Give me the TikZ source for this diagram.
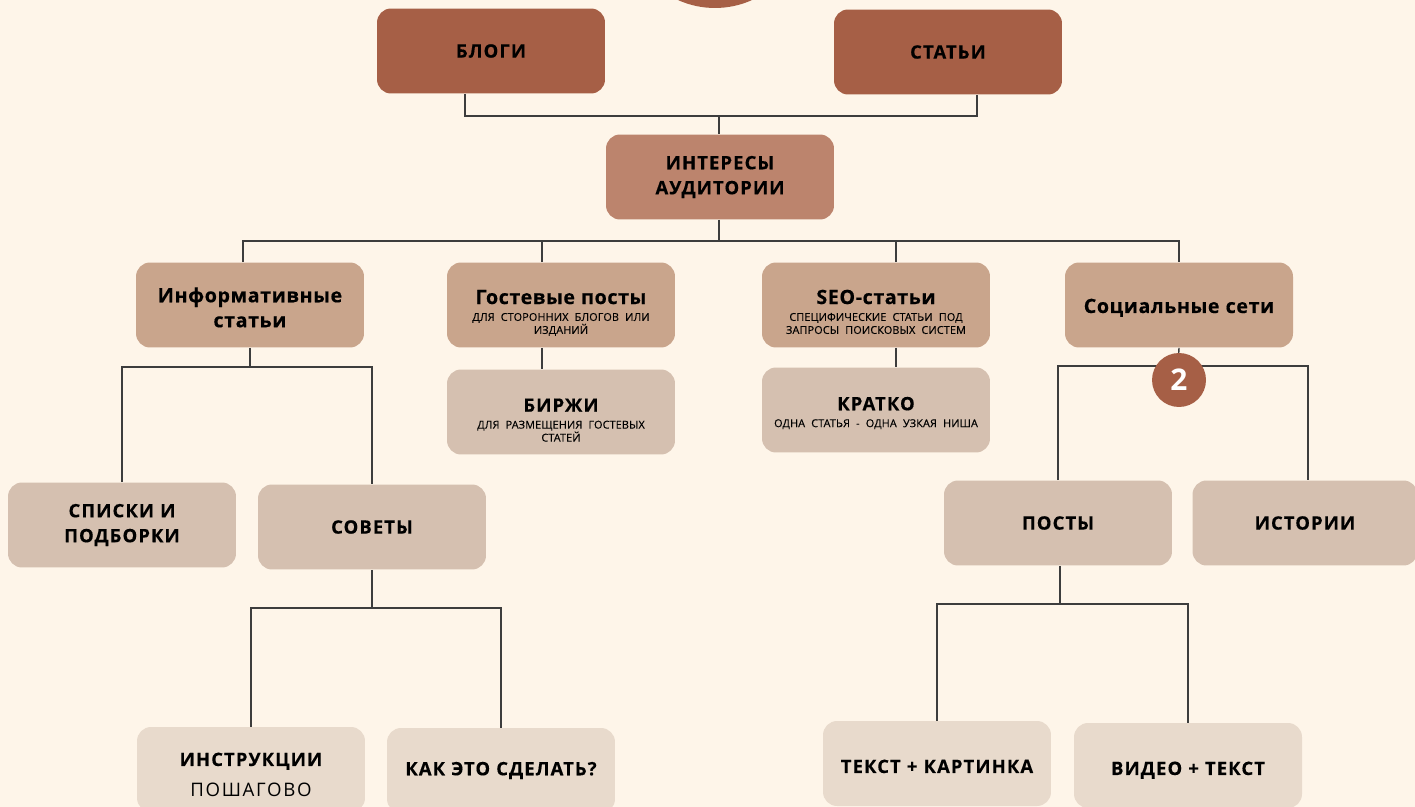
\documentclass[tikz,border=0pt]{standalone}
\usepackage{fontspec}
\setmainfont{Open Sans}
\newfontfamily\headfont{Open Sans}[LetterSpace=6, FakeBold=0.4]
\newfontfamily\mixfont{Open Sans}[LetterSpace=3, FakeBold=0.4]
\newfontfamily\subfont{Open Sans}[LetterSpace=1, FakeBold=0.2]
\newfontfamily\stepfont{Open Sans}[LetterSpace=9]

\definecolor{cream}{HTML}{FEF5E9}
\definecolor{brick}{HTML}{A65F46}
\definecolor{clay}{HTML}{BC846D}
\definecolor{sand}{HTML}{C9A58C}
\definecolor{beige}{HTML}{D5C0B0}
\definecolor{linen}{HTML}{E8DACC}
\definecolor{wire}{HTML}{3D3D3D}

\newcommand\subline{\subfont\mdseries\fontsize{6.2}{7.4}\selectfont}
\newcommand\mixline{\mixfont\bfseries\fontsize{11.2}{14.2}\selectfont}
\newcommand\topgap[1]{\rule{0pt}{#1}}
\newcommand\botgap[1]{\rule[-#1]{0pt}{#1}}

\tikzset{
    box/.style={rounded corners=0.28cm, minimum width=4.56cm, minimum height=1.7cm,
        inner sep=0pt, text width=4.5cm, align=center, text=black,
        font=\headfont\bfseries\fontsize{10.5}{14.2}\selectfont},
    top/.style={box, fill=brick},
    mid/.style={box, fill=clay},
    lvltwo/.style={box, fill=sand},
    lvlthree/.style={box, fill=beige},
    lvlfour/.style={box, fill=linen},
    link/.style={draw=wire, line width=0.8pt},
}

\begin{document}
\begin{tikzpicture}[x=0.02cm, y=-0.02cm]

    \fill[cream] (0,0) rectangle (1415,807);
    \useasboundingbox (0,0) rectangle (1415,807);

    \fill[brick] (715,-82) circle[radius=1.8cm];

    % boxes
    \node[top] (blogi) at (491,51) {БЛОГИ};
    \node[top] (stati) at (948,52) {СТАТЬИ};
    \node[mid] (interes) at (720,177) {ИНТЕРЕСЫ\\АУДИТОРИИ};

    \node[lvltwo] (info) at (250,305) {{\mixline\topgap{14.1pt}Информативные\\статьи\botgap{3pt}\par}};
    \node[lvltwo] (gost) at (561,305) {{\mixline\topgap{18.9pt}Гостевые посты\par}\vspace{2.2pt}{\subline ДЛЯ СТОРОННИХ БЛОГОВ ИЛИ\\ИЗДАНИЙ\botgap{3pt}\par}};
    \node[lvltwo] (seo) at (876,305) {{\mixline\topgap{18.9pt}SEO-статьи\par}\vspace{2.2pt}{\subline СПЕЦИФИЧЕСКИЕ СТАТЬИ ПОД\\ЗАПРОСЫ ПОИСКОВЫХ СИСТЕМ\botgap{3pt}\par}};
    \node[lvltwo] (soc) at (1179,305) {{\mixline\topgap{14.1pt}Социальные сети\botgap{5pt}\par}};

    \node[lvlthree] (birzhi) at (561,412) {\topgap{19.7pt}БИРЖИ\par\vspace{2.2pt}{\subline ДЛЯ РАЗМЕЩЕНИЯ ГОСТЕВЫХ\\СТАТЕЙ\botgap{3pt}\par}};
    \node[lvlthree] (kratko) at (876,410) {\topgap{12.9pt}КРАТКО\par\vspace{2.2pt}{\subline ОДНА СТАТЬЯ - ОДНА УЗКАЯ НИША\botgap{3pt}\par}};

    \node[lvlthree] (spiski) at (122,525) {СПИСКИ И\\ПОДБОРКИ};
    \node[lvlthree] (sovety) at (372,527) {СОВЕТЫ};
    \node[lvlthree] (posty) at (1058,523) {ПОСТЫ};
    \node[lvlthree, minimum width=4.38cm] (istorii) at (1305,523) {ИСТОРИИ};

    \node[lvlfour] (instr) at (251,769.5) {\topgap{16.3pt}ИНСТРУКЦИИ\par\vspace{4.3pt}{\stepfont\mdseries\fontsize{10.6}{13}\selectfont ПОШАГОВО\botgap{3pt}\par}};
    \node[lvlfour] (kak) at (501,770.5) {КАК ЭТО СДЕЛАТЬ?};
    \node[lvlfour] (tekst) at (937,763.5) {\topgap{15.8pt}ТЕКСТ + КАРТИНКА\botgap{5pt}};
    \node[lvlfour] (video) at (1188,765.5) {\topgap{15.8pt}ВИДЕО + ТЕКСТ\botgap{5pt}};

    % junctions
    \coordinate (jtop) at (719,116);
    \coordinate (jmid) at (719,241);
    \coordinate (jinfo) at (250,367);
    \coordinate (jsoc) at (1178,366);
    \coordinate (jsov) at (372,608);
    \coordinate (jpost) at (1060,604);

    \coordinate (xbl) at (465,0);
    \coordinate (xst) at (977,0);
    \coordinate (xin) at (243,0);
    \coordinate (xgo) at (542,0);
    \coordinate (xse) at (896,0);
    \coordinate (xis) at (1308,0);

    % connectors
    \draw[link] (blogi.south -| xbl) |- (jtop) -| (stati.south -| xst);
    \draw[link] (jtop) -- (interes.north -| jtop);
    \draw[link] (interes.south -| jmid) -- (jmid);
    \draw[link] (info.north -| xin) |- (jmid) -| (soc.north);
    \draw[link] (gost.north -| xgo) -- (jmid -| xgo);
    \draw[link] (seo.north -| xse) -- (jmid -| xse);
    \draw[link] (gost.south -| xgo) -- (birzhi.north -| xgo);
    \draw[link] (seo.south -| xse) -- (kratko.north -| xse);

    \draw[link] (info.south) -- (jinfo);
    \draw[link] (spiski.north) |- (jinfo) -| (sovety.north);
    \draw[link] (soc.south) -- (jsoc);
    \draw[link] (posty.north) |- (jsoc) -| (istorii.north -| xis);

    \draw[link] (sovety.south) -- (jsov);
    \draw[link] (instr.north) |- (jsov) -| (kak.north);
    \draw[link] (posty.south -| jpost) -- (jpost);
    \draw[link] (tekst.north) |- (jpost) -| (video.north);

    \node[circle, fill=brick, minimum size=1.08cm, inner sep=0pt, text=white,
        font=\bfseries\fontsize{17}{17}\selectfont] (num) at (1179,380) {2};

\end{tikzpicture}
\end{document}
